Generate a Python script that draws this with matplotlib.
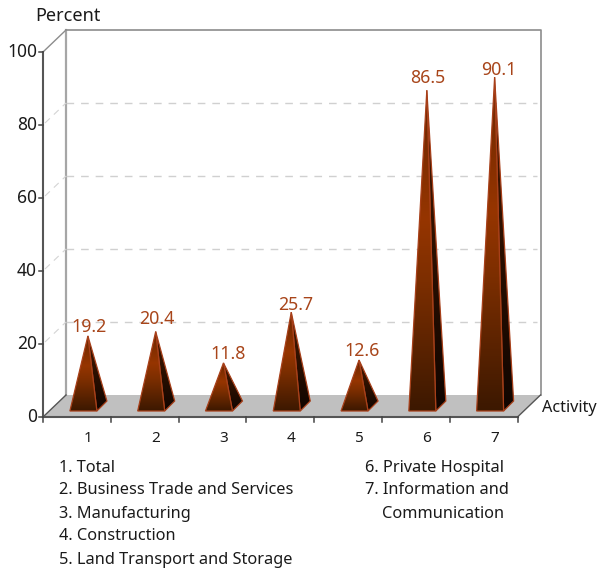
"""Percent by activity: 3D-looking pyramid chart."""
import matplotlib
matplotlib.use("Agg")
import matplotlib.pyplot as plt
import numpy as np
from matplotlib.colors import LinearSegmentedColormap
from matplotlib.patches import Polygon

plt.rcParams["font.family"] = ["Noto Sans", "DejaVu Sans"]

categories = [1, 2, 3, 4, 5, 6, 7]
values = [19.2, 20.4, 11.8, 25.7, 12.6, 86.5, 90.1]
y_ticks = [0, 20, 40, 60, 80, 100]
legend_left = ["1. Total", "2. Business Trade and Services", "3. Manufacturing",
               "4. Construction", "5. Land Transport and Storage"]
legend_right = ["6. Private Hospital", "7. Information and", "    Communication"]

# label nudges in pixels
label_dx = [1, 1, 5, 4, 3, 1, 4]
label_dy = [9, 13, 9, 7, 9, 12, 7]

W, H = 598, 569
TEXT = "#1a1a1a"
LABEL = "#a8451a"
EDGE = "#a8401a"

fig = plt.figure(figsize=(W / 100, H / 100), dpi=100)
# axes = front plane of the box, pixels
L, R, T, B = 43, 517.5, 52, 417
ax = fig.add_axes([L / W, 1 - B / H, (R - L) / W, (B - T) / H])
ax.set_xlim(0.5, 7.5)
ax.set_ylim(0, 100)
ax.axis("off")

px_x = 7 / (R - L)      # data units per pixel
px_y = 100 / (B - T)
DX, DY = 23 * px_x, 22 * px_y   # box depth


def dep(x, y, d=1.0):
    return x + d * DX, y + d * DY


# back wall and floor
x0, x1 = 0.5, 7.5
ax.add_patch(Polygon([(x0, 0), dep(x0, 0), dep(x1, 0), (x1, 0)], fc="#c0c0c0", ec="none",
                     clip_on=False, zorder=1))
bx0, by0 = dep(x0, 0)
bx1, by1 = dep(x1, 100)
ax.plot([bx0, bx0], [by0, by1], color="#a6a6a6", lw=1.6, clip_on=False, zorder=2)
ax.plot([bx0, bx1, bx1, dep(x1, 0)[0]], [by1, by1, by0, by0], color="#8c8c8c", lw=1.2,
        clip_on=False, zorder=2)
ax.plot([x0, bx0], [100, by1], color="#8c8c8c", lw=1, clip_on=False, zorder=2)
ax.plot([x0, bx0], [0, by0], color="#555555", lw=1, clip_on=False, zorder=2)
ax.plot([x1, dep(x1, 0)[0]], [0, by0], color="#555555", lw=1, clip_on=False, zorder=2)

# gridlines, wall + side
for v in y_ticks[1:-1]:
    ax.plot([bx0, bx1 - 4 * px_x], [v + DY, v + DY], color="#d0d0d0", lw=1,
            dashes=(5.5, 5), clip_on=False, zorder=2)
    ax.plot([x0 + 2 * px_x, bx0], [v + 2 * px_y, v + DY], color="#d4d4d4", lw=0.8,
            dashes=(6, 5), clip_on=False, zorder=2)

# axes lines and ticks
ax.plot([x0, x0], [0, 100], color="#555555", lw=1.5, clip_on=False, zorder=3)
ax.plot([x0, x1], [0, 0], color="#555555", lw=1.5, clip_on=False, zorder=3)
for v in y_ticks:
    ax.plot([x0 - 4 * px_x, x0], [v, v], color="#444444", lw=1.1, clip_on=False, zorder=3)
    ax.text(x0 - 6 * px_x, v, str(v), ha="right", va="center", fontsize=12.5, color=TEXT)
for k in range(8):
    ax.plot([x0 + k, x0 + k], [0, -5 * px_y], color="#444444", lw=1.1, clip_on=False, zorder=3)

for c in categories:
    ax.text(c + 11 * px_x, -21 * px_y, str(c), ha="center", va="center", fontsize=11, color=TEXT)

front_cmap = LinearSegmentedColormap.from_list(
    "f", [(0, "#6a2600"), (0.4, "#963500"), (0.6, "#7c2e00"), (1, "#3c1800")])
side_cmap = LinearSegmentedColormap.from_list("s", ["#4a1a00", "#2c1000", "#100500"])
grad = np.linspace(0, 1, 128).reshape(-1, 1)

# pyramids
base = 6 * px_y
for c, v, ldx, ldy in zip(categories, values, label_dx, label_dy):
    fl = (c - 7 * px_x, base)
    fr = (c + 20 * px_x, base)
    br = (c + 30 * px_x, base + 10 * px_y)
    # apex sits over the base centre, height counted from there
    apex = (c + 11 * px_x, v + 11 * px_y)
    for pts, cmap, z in (([fr, br, apex], side_cmap, 4), ([fl, fr, apex], front_cmap, 5)):
        poly = Polygon(pts, closed=True, fc="none", ec=EDGE, lw=0.9, clip_on=False, zorder=z + 0.5)
        ax.add_patch(poly)
        im = ax.imshow(grad, cmap=cmap, aspect="auto", origin="upper", zorder=z,
                       extent=(c - 15 * px_x, c + 35 * px_x, base, apex[1]))
        im.set_clip_path(poly)
    ax.annotate(f"{v}", xy=apex, xytext=(ldx, ldy), textcoords="offset pixels", ha="center",
                va="center", fontsize=12.8, color=LABEL, annotation_clip=False, zorder=7)
ax.set_xlim(0.5, 7.5)
ax.set_ylim(0, 100)

# outside texts
fig.text(35 / W, 1 - 16 / H, "Percent", ha="left", va="center", fontsize=13, color=TEXT)
fig.text(542 / W, 1 - 408 / H, "Activity", ha="left", va="center", fontsize=11.7, color=TEXT)
for i, s in enumerate(legend_left):
    fig.text(59 / W, 1 - (467.5 + i * 23) / H, s, ha="left", va="center", fontsize=11.75, color=TEXT)
for i, s in enumerate(legend_right):
    fig.text(365 / W, 1 - (467.5 + i * 23) / H, s, ha="left", va="center", fontsize=11.75, color=TEXT)

fig.savefig("out.png", dpi=100)
